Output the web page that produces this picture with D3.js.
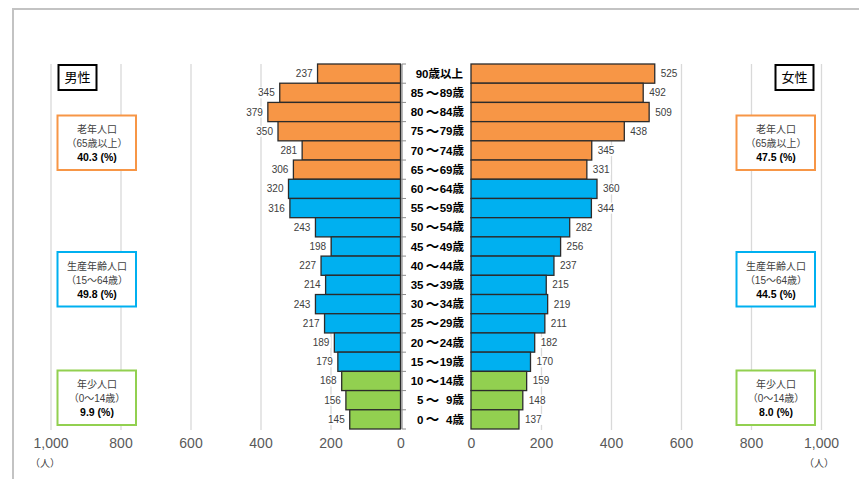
<!DOCTYPE html>
<html><head><meta charset="utf-8">
<script src="https://cdn.jsdelivr.net/npm/d3@7/dist/d3.min.js"></script>
<style>
body{margin:0;background:#fff;}
svg{display:block;font-family:"Liberation Sans","Noto Sans CJK JP",sans-serif;}
</style></head><body>
<svg id="c" width="859" height="479"></svg>
<script>
const ageLabels = ["90歳以上","85 ～ 89歳","80 ～ 84歳","75 ～ 79歳","70 ～ 74歳","65 ～ 69歳","60 ～ 64歳","55 ～ 59歳","50 ～ 54歳","45 ～ 49歳","40 ～ 44歳","35 ～ 39歳","30 ～ 34歳","25 ～ 29歳","20 ～ 24歳","15 ～ 19歳","10 ～ 14歳","5 ～ 9歳","0 ～ 4歳"];
const ageGroup = ["old","old","old","old","old","old","work","work","work","work","work","work","work","work","work","work","young","young","young"];
const male = [237,345,379,350,281,306,320,316,243,198,227,214,243,217,189,179,168,156,145];
const female = [525,492,509,438,345,331,360,344,282,256,237,215,219,211,182,170,159,148,137];
const tickValues = [0,200,400,600,800,1000];
const groupColors = {old:"#F79646", work:"#00B0F0", young:"#92D050"};
const maleBoxes = [
  {g:"old", l1:"老年人口", l2:"（65歳以上）", l3:"40.3 (%)"},
  {g:"work", l1:"生産年齢人口", l2:"（15～64歳）", l3:"49.8 (%)"},
  {g:"young", l1:"年少人口", l2:"（0～14歳）", l3:"9.9 (%)"}
];
const femaleBoxes = [
  {g:"old", l1:"老年人口", l2:"（65歳以上）", l3:"47.5 (%)"},
  {g:"work", l1:"生産年齢人口", l2:"（15～64歳）", l3:"44.5 (%)"},
  {g:"young", l1:"年少人口", l2:"（0～14歳）", l3:"8.0 (%)"}
];

const svg = d3.select("#c");
svg.append("path").attr("d","M13,479 L13,9 L859,9").attr("fill","none").attr("stroke","#c3c3c3").attr("stroke-width",2);

const plotTop = 64, plotBottom = 429;
const y = d3.scaleBand().domain(ageLabels).range([plotTop,plotBottom]).padding(0);
const xL = d3.scaleLinear().domain([0,1000]).range([400.5,50.5]);
const xR = d3.scaleLinear().domain([0,1000]).range([471,821]);

function drawAxis(scale){
  const g = svg.append("g").attr("transform",`translate(0,${plotBottom+1})`)
    .call(d3.axisBottom(scale).tickValues(tickValues).tickFormat(d3.format(",")).tickSizeInner(-(plotBottom+1-plotTop)).tickSizeOuter(0).tickPadding(8));
  g.select(".domain").remove();
  g.selectAll(".tick line").attr("stroke","#d9d9d9").attr("stroke-width",1.3);
  g.selectAll(".tick text").attr("font-size",14).attr("fill","#595959").attr("font-family","Liberation Sans, sans-serif");
  return g;
}
const axL = drawAxis(xL);
const axR = drawAxis(xR);
axL.selectAll(".tick").filter(d=>d===0).select("line").remove();
axR.selectAll(".tick").filter(d=>d===0).select("line").remove();

svg.append("text").attr("x",45).attr("y",467).attr("text-anchor","middle").attr("font-size",10).attr("fill","#404040").text("（人）");
svg.append("text").attr("x",819).attr("y",467).attr("text-anchor","middle").attr("font-size",10).attr("fill","#404040").text("（人）");

const ca = svg.append("g");
ca.append("line").attr("x1",402).attr("x2",402).attr("y1",plotTop).attr("y2",plotBottom).attr("stroke","#8c8c8c").attr("stroke-width",1.2);
ca.selectAll("line.t").data(ageLabels.concat(["end"])).join("line").attr("class","t")
  .attr("x1",402).attr("x2",406)
  .attr("y1",d=>d==="end"?plotBottom:y(d)).attr("y2",d=>d==="end"?plotBottom:y(d))
  .attr("stroke","#8c8c8c").attr("stroke-width",1);

const idx = d3.range(ageLabels.length);
svg.append("g").selectAll("rect").data(idx).join("rect")
  .attr("x",i=>xL(male[i])).attr("width",i=>xL(0)-xL(male[i]))
  .attr("y",i=>y(ageLabels[i])).attr("height",y.bandwidth())
  .attr("fill",i=>groupColors[ageGroup[i]]).attr("stroke","#2b2b2b").attr("stroke-width",1.3);
svg.append("g").selectAll("rect").data(idx).join("rect")
  .attr("x",xR(0)).attr("width",i=>xR(female[i])-xR(0))
  .attr("y",i=>y(ageLabels[i])).attr("height",y.bandwidth())
  .attr("fill",i=>groupColors[ageGroup[i]]).attr("stroke","#2b2b2b").attr("stroke-width",1.3);

function valueLabels(vals, xpos, anchor){
  const g = svg.append("g");
  const t = g.selectAll("text").data(idx).join("text")
    .attr("x",i=>xpos(i)).attr("y",i=>y(ageLabels[i])+y.bandwidth()/2).attr("dy","0.35em")
    .attr("text-anchor",anchor).attr("font-size",10).attr("fill","#404040").text(i=>vals[i]);
  t.each(function(){
    const b = this.getBBox();
    g.insert("rect","text").attr("x",b.x-1).attr("y",b.y).attr("width",b.width+2).attr("height",b.height).attr("fill","#fff");
  });
}
valueLabels(male, i=>xL(male[i])-5, "end");
valueLabels(female, i=>xR(female[i])+6, "start");

const ag = svg.append("g").attr("font-size",11.5).attr("font-weight","bold").attr("fill","#000");
ageLabels.forEach(lbl=>{
  const cy = y(lbl)+y.bandwidth()/2;
  const parts = lbl.split(" ～ ");
  if(parts.length===1){
    ag.append("text").attr("x",463).attr("y",cy).attr("dy","0.36em").attr("text-anchor","end").text(lbl);
  } else {
    ag.append("text").attr("x",423.5).attr("y",cy).attr("dy","0.36em").attr("text-anchor","end").text(parts[0]);
    ag.append("text").attr("x",432.5).attr("y",cy).attr("dy","0.36em").attr("text-anchor","middle").attr("font-size",13.5).text("～");
    ag.append("text").attr("x",464).attr("y",cy).attr("dy","0.36em").attr("text-anchor","end").text(parts[1]);
  }
});

function sexBox(x0,label){
  svg.append("rect").attr("x",x0).attr("y",65).attr("width",38).attr("height",25).attr("fill","#fff").attr("stroke","#000").attr("stroke-width",2);
  svg.append("text").attr("x",x0+19).attr("y",77.5).attr("dy","0.36em").attr("text-anchor","middle").attr("font-size",13).attr("fill","#000").text(label);
}
sexBox(58.5,"男性");
sexBox(775.5,"女性");

const boxY = [115.5,252,370.5];
function groupBoxes(x0, boxes){
  boxes.forEach((b,k)=>{
    const yy = boxY[k];
    svg.append("rect").attr("x",x0).attr("y",yy).attr("width",78.5).attr("height",54.5).attr("fill","#fff").attr("stroke",groupColors[b.g]).attr("stroke-width",2);
    const cx = x0+39.5;
    svg.append("text").attr("x",cx).attr("y",yy+14).attr("dy","0.36em").attr("text-anchor","middle").attr("font-size",10).attr("fill","#404040").text(b.l1);
    svg.append("text").attr("x",cx).attr("y",yy+28).attr("dy","0.36em").attr("text-anchor","middle").attr("font-size",10).attr("fill","#404040").text(b.l2);
    svg.append("text").attr("x",cx).attr("y",yy+42).attr("dy","0.36em").attr("text-anchor","middle").attr("font-size",10.5).attr("font-weight","bold").attr("fill","#000").text(b.l3);
  });
}
groupBoxes(57.5, maleBoxes);
groupBoxes(736.5, femaleBoxes);
</script>
</body></html>
